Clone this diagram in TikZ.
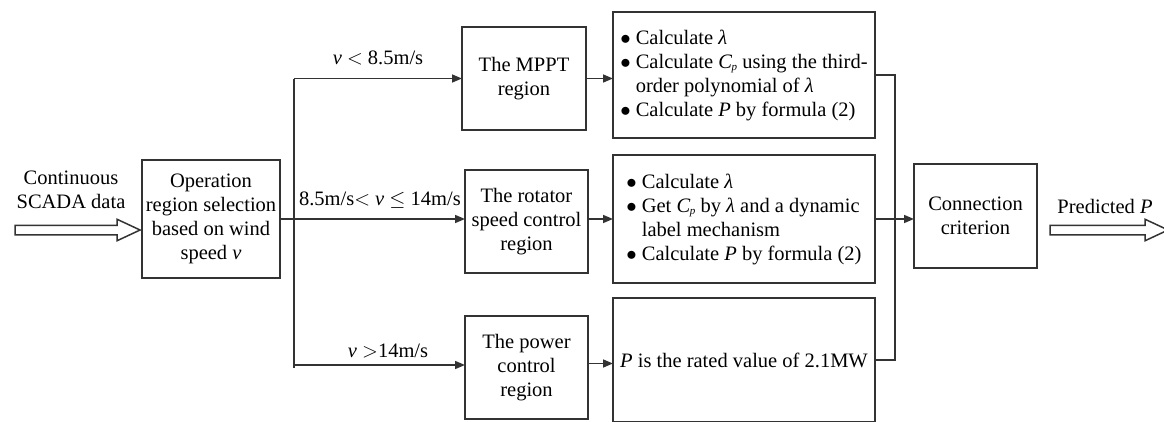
\documentclass[tikz,border=0pt]{standalone}
\usepackage{fontspec}
\setmainfont{Liberation Serif}
\usepackage{tikz}
\usetikzlibrary{positioning, shapes.arrows, arrows.meta, calc}
\definecolor{linegray}{rgb}{0.2, 0.2, 0.2}
\newcommand{\cpsym}{\textit{C}\kern-0.5pt\raisebox{-0.3ex}{\fontsize{11}{11}\selectfont\textit{p}}}
\newcommand{\lam}{\textit{λ}}
\newcommand{\blt}{$\bullet$\hspace{5pt}}

\begin{document}
\begin{tikzpicture}[x=1pt, y=-1pt,
		every node/.style={font=\fontsize{20.5}{24}\selectfont},
		box/.style={draw=linegray, line width=1.5pt, align=center, inner sep=2pt, outer sep=0pt},
		calcbox/.style={box, align=left, minimum width=262pt},
		regionbox/.style={box, minimum width=123pt, minimum height=103pt},
		wire/.style={draw=linegray, line width=1.5pt},
		arr/.style={wire, -{Triangle[length=10pt, width=8pt]}},
		fat/.style={single arrow, draw=linegray, line width=1.5pt, inner sep=4pt, single arrow head extend=6pt, single arrow tip angle=50, outer sep=0pt},
		lab/.style={inner sep=1pt}]
				\useasboundingbox (0,0) rectangle (1164,421);
				\node[align=center] (inlab) at (71,190) {Continuous\\SCADA data};
				\node[fat, minimum height=125pt] (inarrow) at (72.5,230) {};
				\node[box, minimum width=138pt, minimum height=118pt] (opsel) at (211,219) {Operation\\region selection\\based on wind\\speed \textit{v}};
				
				\node[regionbox, minimum width=124pt] (mppt) at (524,78.5) {The MPPT\\region};
				\node[regionbox] (rotator) at (526.5,221.5) {The rotator\\speed control\\region};
				\node[regionbox] (power) at (526.5,367.5) {The power\\control\\region};
				
				\node[calcbox, minimum height=126pt] (calcA) at (744,75) {\blt Calculate \lam\\ \blt Calculate \cpsym{} using the third-\\ \hphantom{\blt}order polynomial of \lam\\ \blt Calculate \textit{P} by formula (2)};
				\node[calcbox, minimum height=128pt] (calcB) at (744,219) {\blt Calculate \lam\\ \blt Get \cpsym{} by \lam{} and a dynamic\\ \hphantom{\blt}label mechanism\\ \blt Calculate \textit{P} by formula (2)};
				\node[box, minimum width=262pt, minimum height=124pt] (calcC) at (744,360) {\textit{P} is the rated value of 2.1MW};
				
				\node[box, minimum width=123pt, minimum height=104pt] (conn) at (975.5,216) {Connection\\criterion};
				\node (outlab) at (1105,206) {Predicted \textit{P}};
				\node[fat, minimum height=118pt] (outarrow) at (1104,230) {};
				
				\coordinate (fork) at (294,0);
				\coordinate (join) at (895,0);
				\draw[arr] (opsel.east) -- (opsel.east -| rotator.west) node[lab, pos=0.54, above=9pt] {8.5m/s$<$ \textit{v} $\le$ 14m/s};
				\draw[wire] (fork |- mppt) -- (fork |- power);
				\draw[arr] (fork |- mppt) -- (mppt.west) node[lab, midway, above=12pt] {\textit{v} $<$ 8.5m/s};
				\draw[arr] (fork |- power.west) ++(0,-2.5) -- ++(171,0) node[lab, pos=0.55, above=5pt] {\textit{v} $>$14m/s};
				
				\draw[arr] (mppt.east) -- (mppt.east -| calcA.west);
				\draw[arr] (rotator.east) ++(0,-2.5) -- ++(25,0);
				\draw[arr] (power.east) ++(0,-4) -- ++(25,0);
				
				\draw[wire] (calcA.east) -- (join |- calcA.east) -- (join |- calcC.east) -- (calcC.east);
				\draw[arr] (calcB.east) -- (calcB.east -| conn.west);
\end{tikzpicture}
\end{document}
